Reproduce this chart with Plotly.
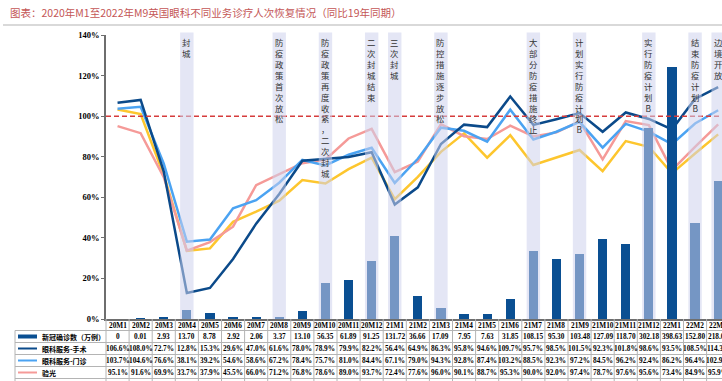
import plotly.graph_objects as go

# ---------------- data ----------------
categories = ["20M1", "20M2", "20M3", "20M4", "20M5", "20M6", "20M7", "20M8", "20M9",
              "20M10", "20M11", "20M12", "21M1", "21M2", "21M3", "21M4", "21M5", "21M6",
              "21M7", "21M8", "21M9", "21M10", "21M11", "21M12", "22M1", "22M2", "22M3"]

covid_cases = [0, 0.01, 2.93, 13.70, 8.78, 2.92, 2.06, 3.37, 13.10, 56.35, 61.89, 91.25,
               131.72, 36.66, 17.09, 7.95, 7.63, 31.85, 108.15, 95.30, 103.48, 127.09,
               118.70, 302.18, 398.63, 152.80, 218.00]

surgery = [106.6, 108.0, 72.7, 12.8, 15.3, 29.6, 47.0, 61.6, 78.0, 78.9, 79.9, 82.2,
           56.4, 64.9, 86.3, 95.8, 94.6, 109.7, 95.7, 98.5, 101.5, 92.3, 101.8, 98.6,
           93.5, 108.5, 114.3]

outpatient = [103.7, 104.6, 76.6, 38.1, 39.2, 54.6, 58.6, 67.2, 78.4, 75.7, 81.0, 84.4,
              67.1, 79.0, 94.3, 92.8, 87.4, 103.2, 88.5, 92.3, 97.2, 84.5, 96.2, 92.4,
              86.2, 96.4, 102.9]

optometry = [95.1, 91.6, 69.9, 33.7, 37.9, 45.5, 66.0, 71.2, 76.8, 78.6, 89.0, 93.7,
             72.4, 77.6, 96.0, 90.1, 88.7, 95.3, 90.0, 92.0, 97.4, 78.7, 97.6, 95.6,
             73.4, 84.9, 95.9]

# fifth series (its table row is cut off in the source)
other_service = [103.3, 101.0, 71.0, 33.6, 34.8, 47.9, 52.9, 58.3, 68.5, 66.8, 73.9, 79.6,
                 59.1, 70.1, 82.4, 91.5, 79.5, 90.6, 75.9, 79.5, 83.3, 72.9, 87.7, 84.9,
                 71.8, 81.6, 91.0]

event_categories = ["20M4", "20M8", "20M10", "20M12", "21M1", "21M3", "21M7", "21M9",
                    "21M12", "22M2", "22M3"]
event_texts = ["封城", "防疫政策首次放松", "防疫政策再度收紧，二次封城", "二次封城结束", "三次封城",
               "防控措施逐步放松", "大部分防疫措施终止", "计划实行防疫计划B", "实行防疫计划B",
               "结束防疫计划B", "边境开放"]

row_names = ["新冠确诊数（万例）", "眼科服务-手术", "眼科服务-门诊", "验光"]

title_text = "图表：2020年M1至2022年M9英国眼科不同业务诊疗人次恢复情况（同比19年同期）"

# ---------------- layout geometry (pixels) ----------------
W, H = 722, 381
PL, PR, PT, PB = 106, 722, 35, 319


def py(p):
    return 1 - (p - PT) / (PB - PT)


def px(p):
    return (p - PL) / (PR - PL)


C_BAR = "#0a4f92"
C_SURG = "#0b4a8a"
C_OUT = "#4ba3f2"
C_OPT = "#f59a98"
C_YEL = "#fdc62e"
SERIF = "Liberation Serif"
CJK = "Noto Sans CJK SC"

fig = go.Figure()

fig.add_trace(go.Bar(x=categories, y=covid_cases, yaxis="y2", marker=dict(color=C_BAR, line=dict(width=0)),
                     width=0.4, name=row_names[0]))
fig.add_trace(go.Scatter(x=categories, y=other_service, mode="lines", line=dict(color=C_YEL, width=2.5),
                         name="其他"))
fig.add_trace(go.Scatter(x=categories, y=optometry, mode="lines", line=dict(color=C_OPT, width=2.5),
                         name=row_names[3]))
fig.add_trace(go.Scatter(x=categories, y=outpatient, mode="lines", line=dict(color=C_OUT, width=2.5),
                         name=row_names[2]))
fig.add_trace(go.Scatter(x=categories, y=surgery, mode="lines", line=dict(color=C_SURG, width=2.5),
                         name=row_names[1]))

shapes = []
annotations = []

# title and rule
annotations.append(dict(text=title_text, x=px(8), y=py(12.5), xref="paper", yref="paper",
                        xanchor="left", yanchor="middle", showarrow=False,
                        font=dict(family=CJK, size=10.5, color="#c45656")))
shapes.append(dict(type="line", xref="paper", yref="paper", x0=px(3), x1=1, y0=py(25), y1=py(25),
                   line=dict(color="#cccccc", width=1.5)))

# 100% reference line
shapes.append(dict(type="line", xref="paper", yref="y", x0=0, x1=1, y0=100, y1=100,
                   line=dict(color="#d63c3c", width=1.5, dash="5px,3px"), layer="above"))

# event bands + vertical texts
for cat, txt in zip(event_categories, event_texts):
    i = categories.index(cat)
    shapes.append(dict(type="rect", xref="x", yref="paper", x0=i - 0.29, x1=i + 0.29,
                       y0=0, y1=py(32.5), fillcolor="rgb(205,210,236)", opacity=0.55,
                       line=dict(width=0), layer="above"))
    annotations.append(dict(text="<br>".join(list(txt)), x=i, xref="x", y=py(34), yref="paper",
                            xanchor="center", yanchor="top", showarrow=False,
                            font=dict(family=CJK, size=8.4, color="#333333")))

# ---------------- data table ----------------
row_bounds = [330.5, 342.5, 354.5, 366.5, 378.5]
row_centers = [336.5, 348.5, 360.5, 372.5]
header_center = 325
GRID = "#b4b4b4"

for b in row_bounds:
    shapes.append(dict(type="line", xref="paper", yref="paper", x0=px(15), x1=1, y0=py(b), y1=py(b),
                       line=dict(color=GRID, width=1)))
shapes.append(dict(type="line", xref="paper", yref="paper", x0=px(15), x1=px(15),
                   y0=py(row_bounds[0]), y1=py(H + 2), line=dict(color=GRID, width=1)))
shapes.append(dict(type="line", xref="paper", yref="paper", x0=0, x1=0,
                   y0=py(PB), y1=py(H + 2), line=dict(color=GRID, width=1)))
for c in range(1, len(categories) + 1):
    shapes.append(dict(type="line", xref="x", yref="paper", x0=c - 0.5, x1=c - 0.5,
                       y0=py(PB), y1=py(H + 2), line=dict(color=GRID, width=1)))

cell_font = dict(family=SERIF, size=7.3, color="#000000", weight="bold")
for i, cat in enumerate(categories):
    annotations.append(dict(text=cat, x=i, xref="x", y=py(header_center), yref="paper",
                            showarrow=False, font=cell_font, xanchor="center", yanchor="middle"))
    v = covid_cases[i]
    vals = ["0" if v == 0 else f"{v:.2f}", f"{surgery[i]:.1f}%", f"{outpatient[i]:.1f}%",
            f"{optometry[i]:.1f}%"]
    for r, t in enumerate(vals):
        annotations.append(dict(text=t, x=i, xref="x", y=py(row_centers[r]), yref="paper",
                                showarrow=False, font=cell_font, xanchor="center", yanchor="middle"))

# legend column
marker_colors = [C_BAR, C_SURG, C_OUT, C_OPT]
for r, name in enumerate(row_names):
    yc = row_centers[r]
    if r == 0:
        shapes.append(dict(type="rect", xref="paper", yref="paper", x0=px(18), x1=px(37),
                           y0=py(yc + 2), y1=py(yc - 2), fillcolor=marker_colors[r], line=dict(width=0)))
    else:
        shapes.append(dict(type="line", xref="paper", yref="paper", x0=px(18), x1=px(37),
                           y0=py(yc), y1=py(yc), line=dict(color=marker_colors[r], width=2)))
    annotations.append(dict(text=name, x=px(40), y=py(yc), xref="paper", yref="paper",
                            xanchor="left", yanchor="middle", showarrow=False,
                            font=dict(family=CJK, size=7, color="#000000", weight="bold")))

fig.update_layout(
    width=W, height=H, autosize=False,
    margin=dict(l=PL, r=W - PR, t=PT, b=H - PB, pad=0),
    paper_bgcolor="white", plot_bgcolor="white",
    showlegend=False,
    bargap=0,
    xaxis=dict(type="category", range=[-0.5, (PR - PL) / 23.1 - 0.5], showticklabels=False,
               ticks="", showgrid=False, zeroline=False, showline=True, linecolor="#6e6e6e",
               linewidth=1.5, automargin=False),
    yaxis=dict(range=[0, 140], dtick=20, ticksuffix="%", showgrid=False, zeroline=False,
               showline=True, linecolor="#6e6e6e", linewidth=1.5, ticks="outside", ticklen=3,
               tickcolor="#6e6e6e", automargin=False,
               tickfont=dict(family=SERIF, size=8.5, color="#000000", weight="bold")),
    yaxis2=dict(range=[0, 450], overlaying="y", visible=False),
    shapes=shapes,
    annotations=annotations,
)

fig.write_html("out.html", config={"displayModeBar": False},
               post_script="document.body.style.margin='0px';document.body.style.overflow='hidden';")
